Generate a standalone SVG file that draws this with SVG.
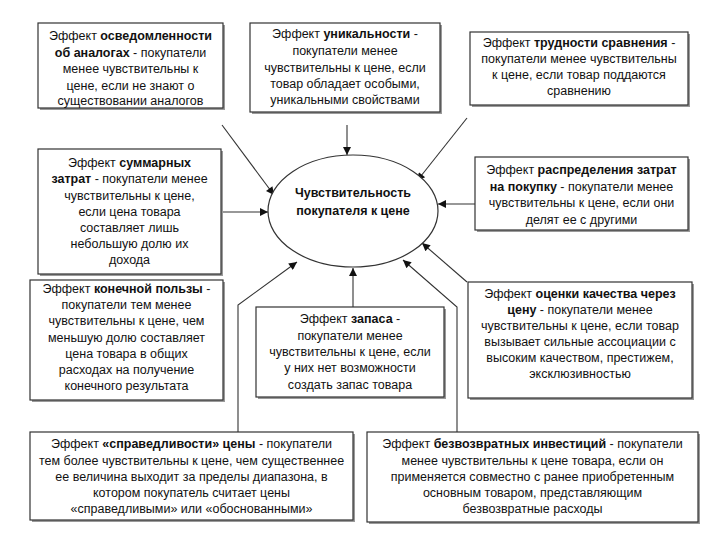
<svg xmlns="http://www.w3.org/2000/svg" width="720" height="540" viewBox="0 0 720 540">
<style>
.box{fill:#fff;stroke:#333;stroke-width:1.2}
.sh{fill:#9a9a9a}
text{font-family:"Liberation Sans",Arial,sans-serif;font-size:12.5px;fill:#111;text-anchor:middle}
.b{font-weight:bold}
.ln{fill:none;stroke:#333;stroke-width:1.1;marker-end:url(#ah)}
</style>
<defs>
<marker id="ah" viewBox="0 0 10 10" refX="10" refY="5" markerWidth="10" markerHeight="8" markerUnits="userSpaceOnUse" orient="auto">
<path d="M0,0 L10,5 L0,10 Z" fill="#111"/>
</marker>
</defs>
<rect width="720" height="540" fill="#fff"/>

<g id="connectors">
<path class="ln" d="M222,125 L274,195"/>
<path class="ln" d="M347,125 L347,155"/>
<path class="ln" d="M467,118 L417,181"/>
<path class="ln" d="M221,212 L268,212"/>
<path class="ln" d="M475,204 L438,204"/>
<path class="ln" d="M467,282 L422,243"/>
<path class="ln" d="M353,307 L353,268"/>
<path class="ln" d="M238,432 L238,305 L297,262"/>
<path class="ln" d="M457,432 L457,307 L403,260"/>
</g>

<g id="center">
<ellipse cx="353" cy="211" rx="85" ry="56" fill="#fff" stroke="#333" stroke-width="1.2"/>
<text class="b" x="353" y="197">Чувствительность</text>
<text class="b" x="353" y="215">покупателя к цене</text>
</g>

<g id="n1">
<rect class="sh" x="40" y="25" width="185" height="85"/>
<rect class="box" x="38" y="23" width="185" height="85"/>
<text x="130.5" y="40">Эффект <tspan class="b">осведомленности</tspan></text>
<text x="130.5" y="57"><tspan class="b">об аналогах</tspan> - покупатели</text>
<text x="130.5" y="73">менее чувствительны к</text>
<text x="130.5" y="90">цене, если не знают о</text>
<text x="130.5" y="105">существовании аналогов</text>
</g>

<g id="n2">
<rect class="sh" x="252" y="25" width="190" height="89"/>
<rect class="box" x="250" y="23" width="190" height="89"/>
<text x="345" y="38">Эффект <tspan class="b">уникальности</tspan> -</text>
<text x="345" y="55">покупатели менее</text>
<text x="345" y="72">чувствительны к цене, если</text>
<text x="345" y="88">товар обладает особыми,</text>
<text x="345" y="104">уникальными свойствами</text>
</g>

<g id="n3">
<rect class="sh" x="472" y="34" width="218" height="73"/>
<rect class="box" x="470" y="32" width="218" height="73"/>
<text x="579" y="47">Эффект <tspan class="b">трудности сравнения</tspan> -</text>
<text x="579" y="63">покупатели менее  чувствительны</text>
<text x="579" y="79">к цене, если  товар поддаются</text>
<text x="579" y="95">сравнению</text>
</g>

<g id="n4">
<rect class="sh" x="40" y="151" width="183" height="125"/>
<rect class="box" x="38" y="149" width="183" height="125"/>
<text x="129.5" y="167">Эффект <tspan class="b">суммарных</tspan></text>
<text x="129.5" y="183"><tspan class="b">затрат</tspan> - покупатели менее</text>
<text x="129.5" y="200">чувствительны к цене,</text>
<text x="129.5" y="216">если цена товара</text>
<text x="129.5" y="232">составляет лишь</text>
<text x="129.5" y="248">небольшую долю их</text>
<text x="129.5" y="264">дохода</text>
</g>

<g id="n5">
<rect class="sh" x="477" y="159" width="213" height="73"/>
<rect class="box" x="475" y="157" width="213" height="73"/>
<text x="581.5" y="174">Эффект <tspan class="b">распределения затрат</tspan></text>
<text x="581.5" y="191"><tspan class="b">на покупку</tspan> - покупатели менее</text>
<text x="581.5" y="207">чувствительны к цене, если они</text>
<text x="581.5" y="224">делят ее с другими</text>
</g>

<g id="n6">
<rect class="sh" x="32" y="282" width="193" height="120"/>
<rect class="box" x="30" y="280" width="193" height="120"/>
<text x="126.5" y="293">Эффект <tspan class="b">конечной пользы</tspan> -</text>
<text x="126.5" y="309">покупатели тем менее</text>
<text x="126.5" y="325">чувствительны к цене, чем</text>
<text x="126.5" y="342">меньшую долю составляет</text>
<text x="126.5" y="358">цена товара в общих</text>
<text x="126.5" y="374">расходах на получение</text>
<text x="126.5" y="390">конечного результата</text>
</g>

<g id="n7">
<rect class="sh" x="258" y="309" width="188" height="90"/>
<rect class="box" x="256" y="307" width="188" height="90"/>
<text x="350" y="323">Эффект <tspan class="b">запаса</tspan> -</text>
<text x="350" y="340">покупатели менее</text>
<text x="350" y="356">чувствительны к цене, если</text>
<text x="350" y="372">у них нет возможности</text>
<text x="350" y="389">создать запас товара</text>
</g>

<g id="n8">
<rect class="sh" x="470" y="284" width="224" height="116"/>
<rect class="box" x="468" y="282" width="224" height="116"/>
<text x="580" y="298">Эффект <tspan class="b">оценки качества через</tspan></text>
<text x="580" y="314"><tspan class="b">цену</tspan> - покупатели менее</text>
<text x="580" y="330">чувствительны к цене, если товар</text>
<text x="580" y="346">вызывает сильные ассоциации с</text>
<text x="580" y="362">высоким качеством, престижем,</text>
<text x="580" y="378">эксклюзивностью</text>
</g>

<g id="n9">
<rect class="sh" x="32" y="434" width="323" height="88"/>
<rect class="box" x="30" y="432" width="323" height="88"/>
<text x="191.5" y="448">Эффект <tspan class="b">«справедливости»  цены</tspan> - покупатели</text>
<text x="191.5" y="465">тем более чувствительны к цене, чем существеннее</text>
<text x="191.5" y="481">ее величина выходит за пределы диапазона, в</text>
<text x="191.5" y="497">котором покупатель считает цены</text>
<text x="191.5" y="513">«справедливыми» или «обоснованными»</text>
</g>

<g id="n10">
<rect class="sh" x="369" y="434" width="331" height="90"/>
<rect class="box" x="367" y="432" width="331" height="90"/>
<text x="532.5" y="448">Эффект <tspan class="b">безвозвратных инвестиций</tspan> - покупатели</text>
<text x="532.5" y="465">менее чувствительны к цене товара, если он</text>
<text x="532.5" y="481">применяется совместно с ранее приобретенным</text>
<text x="532.5" y="497">основным товаром, представляющим</text>
<text x="532.5" y="513">безвозвратные расходы</text>
</g>
</svg>
